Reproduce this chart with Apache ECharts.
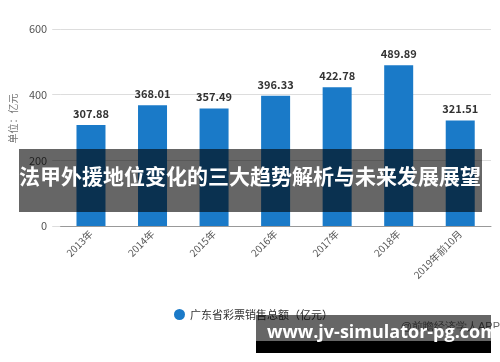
<!DOCTYPE html>
<html><head><meta charset="utf-8">
<script src="https://cdn.jsdelivr.net/npm/echarts@6/dist/echarts.min.js"></script>
<style>html,body{margin:0;padding:0;background:#fff}#c{width:500px;height:362px}</style>
</head><body><div id="c"></div>
<script>
var categories = ['2013年','2014年','2015年','2016年','2017年','2018年','2019年前10月'];
var salesValues = [307.88, 368.01, 357.49, 396.33, 422.78, 489.89, 321.51];
var yTicks = [0, 200, 400, 600];
var seriesName = '广东省彩票销售总额（亿元）';
var yAxisName = '单位：亿元';
var bannerTitle = '法甲外援地位变化的三大趋势解析与未来发展展望';
var bannerUrl = 'www.jv-simulator-pg.com';
var sourceText = '@前瞻经济学人APP';

var font = '"Noto Sans CJK SC", "Noto Sans", sans-serif';
var chart = echarts.init(document.getElementById('c'), null, {renderer: 'canvas'});
chart.setOption({
  animation: false,
  textStyle: {fontFamily: font},
  grid: {left: 57, right: 9, top: 29, bottom: 136},
  legend: {
    data: [seriesName], left: 169, top: 304, icon: 'circle', itemWidth: 11, itemHeight: 11, itemGap: 6,
    textStyle: {fontSize: 11, color: '#333', fontFamily: font}
  },
  xAxis: {
    type: 'category', data: categories,
    axisLine: {lineStyle: {color: '#999'}},
    axisTick: {alignWithLabel: true, length: 4, lineStyle: {color: '#999'}},
    axisLabel: {rotate: 45, fontSize: 10, color: '#555', margin: 6, interval: 0}
  },
  yAxis: {
    type: 'value', min: yTicks[0], max: yTicks[yTicks.length - 1], interval: 200,
    name: yAxisName, nameLocation: 'middle', nameGap: 40, nameRotate: 90,
    nameTextStyle: {fontSize: 10, color: '#777', padding: [0, 0, 0, 18]},
    axisLine: {show: false},
    axisTick: {show: true, length: 8, lineStyle: {color: '#ddd'}},
    axisLabel: {fontSize: 11, color: '#555', margin: 13},
    splitLine: {lineStyle: {color: '#ddd'}}
  },
  series: [{
    name: seriesName, type: 'bar', data: salesValues, barWidth: 29,
    itemStyle: {color: '#1a7ac8'},
    label: {show: true, position: 'top', fontSize: 11, fontWeight: 'bold', color: '#333', distance: 6,
      formatter: function (p) { return p.value.toFixed(2); }}
  }],
  graphic: [
    {type: 'text', right: 0, top: 321, z: 5, style: {text: sourceText, fontSize: 11, fill: '#666', font: '11px ' + font}},
    {type: 'rect', left: 19, top: 149, z: 10, shape: {width: 463, height: 63}, style: {fill: 'rgba(0,0,0,0.6)'}},
    {type: 'text', left: 'center', top: 166, z: 11, style: {text: bannerTitle, fill: '#fff', font: 'bold 21px ' + font}},
    {type: 'rect', left: 256, top: 315, z: 10, shape: {width: 235, height: 26}, style: {fill: 'rgba(0,0,0,0.6)'}},
    {type: 'rect', left: 256, top: 341, z: 10, shape: {width: 235, height: 12}, style: {fill: '#000'}},
    {type: 'text', left: 267, top: 324, z: 11, style: {text: bannerUrl, fill: '#fff', font: 'bold 18px "Open Sans", "DejaVu Sans", sans-serif'}}
  ]
});
</script></body></html>
